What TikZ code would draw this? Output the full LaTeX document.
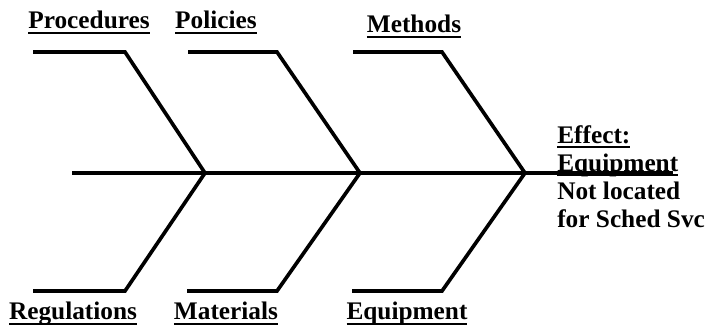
\documentclass[tikz,border=0pt]{standalone}
\usepackage{fontspec}
\setmainfont{Liberation Serif}
\usetikzlibrary{positioning}

%% heavy underline, as in the scanned chart
\newcommand{\ulbold}[1]{\setbox0\hbox{#1}\rlap{\rule[-3.4pt]{\wd0}{1.3pt}}\box0}

\begin{document}
\begin{tikzpicture}[
    x=0.025cm, y=-0.025cm,
    font=\fontsize{18}{20}\selectfont\bfseries,
    bone/.style={line width=2.6pt, line join=miter},
    spine/.style={line width=2.2pt},
    cause/.style={anchor=base, inner sep=0pt},
]
\useasboundingbox (0,0) rectangle (706,333);

%% ---- SPINE: joints from tail to head ----
\coordinate (tail) at (72,173);
\coordinate (j1)   at (205,173);
\coordinate (j2)   at (360,173);
\coordinate (j3)   at (525,173);
\coordinate (head) at (673,173);

%% ---- TOP BONES: start and knee ----
\coordinate (procS) at (33,52);   \coordinate (procK) at (125,52);
\coordinate (poliS) at (188,52);  \coordinate (poliK) at (277,52);
\coordinate (methS) at (353,52);  \coordinate (methK) at (442,52);

%% ---- BOTTOM BONES: start and knee ----
\coordinate (reguS) at (33,291);  \coordinate (reguK) at (125,291);
\coordinate (mateS) at (187,291); \coordinate (mateK) at (277,291);
\coordinate (equiS) at (352,291); \coordinate (equiK) at (442,291);

%% ---- CAUSE LABELS ----
\node[cause] (proc) at (89,29)  {\ulbold{Procedures}};
\node[cause] (poli) at (216,29) {\ulbold{Policies}};
\node[cause] (meth) at (414,33) {\ulbold{Methods}};
\node[cause] (regu) at (73,320)  {\ulbold{Regulations}};
\node[cause] (mate) at (226,320) {\ulbold{Materials}};
\node[cause] (equi) at (407,320) {\ulbold{Equipment}};

%% ---- EFFECT ----
\node[anchor=north west, align=left, inner sep=0pt] (effect) at (557,125)
    {\ulbold{Effect:}\\\ulbold{Equipment}\\Not located\\for Sched Svc};

%% ---- SPINE LINE ----
\draw[spine] (tail) -- (head);

%% ---- BONES ----
\draw[bone] (procS) -- (procK) -- (j1);
\draw[bone] (poliS) -- (poliK) -- (j2);
\draw[bone] (methS) -- (methK) -- (j3);
\draw[bone] (reguS) -- (reguK) -- (j1);
\draw[bone] (mateS) -- (mateK) -- (j2);
\draw[bone] (equiS) -- (equiK) -- (j3);

\end{tikzpicture}
\end{document}
